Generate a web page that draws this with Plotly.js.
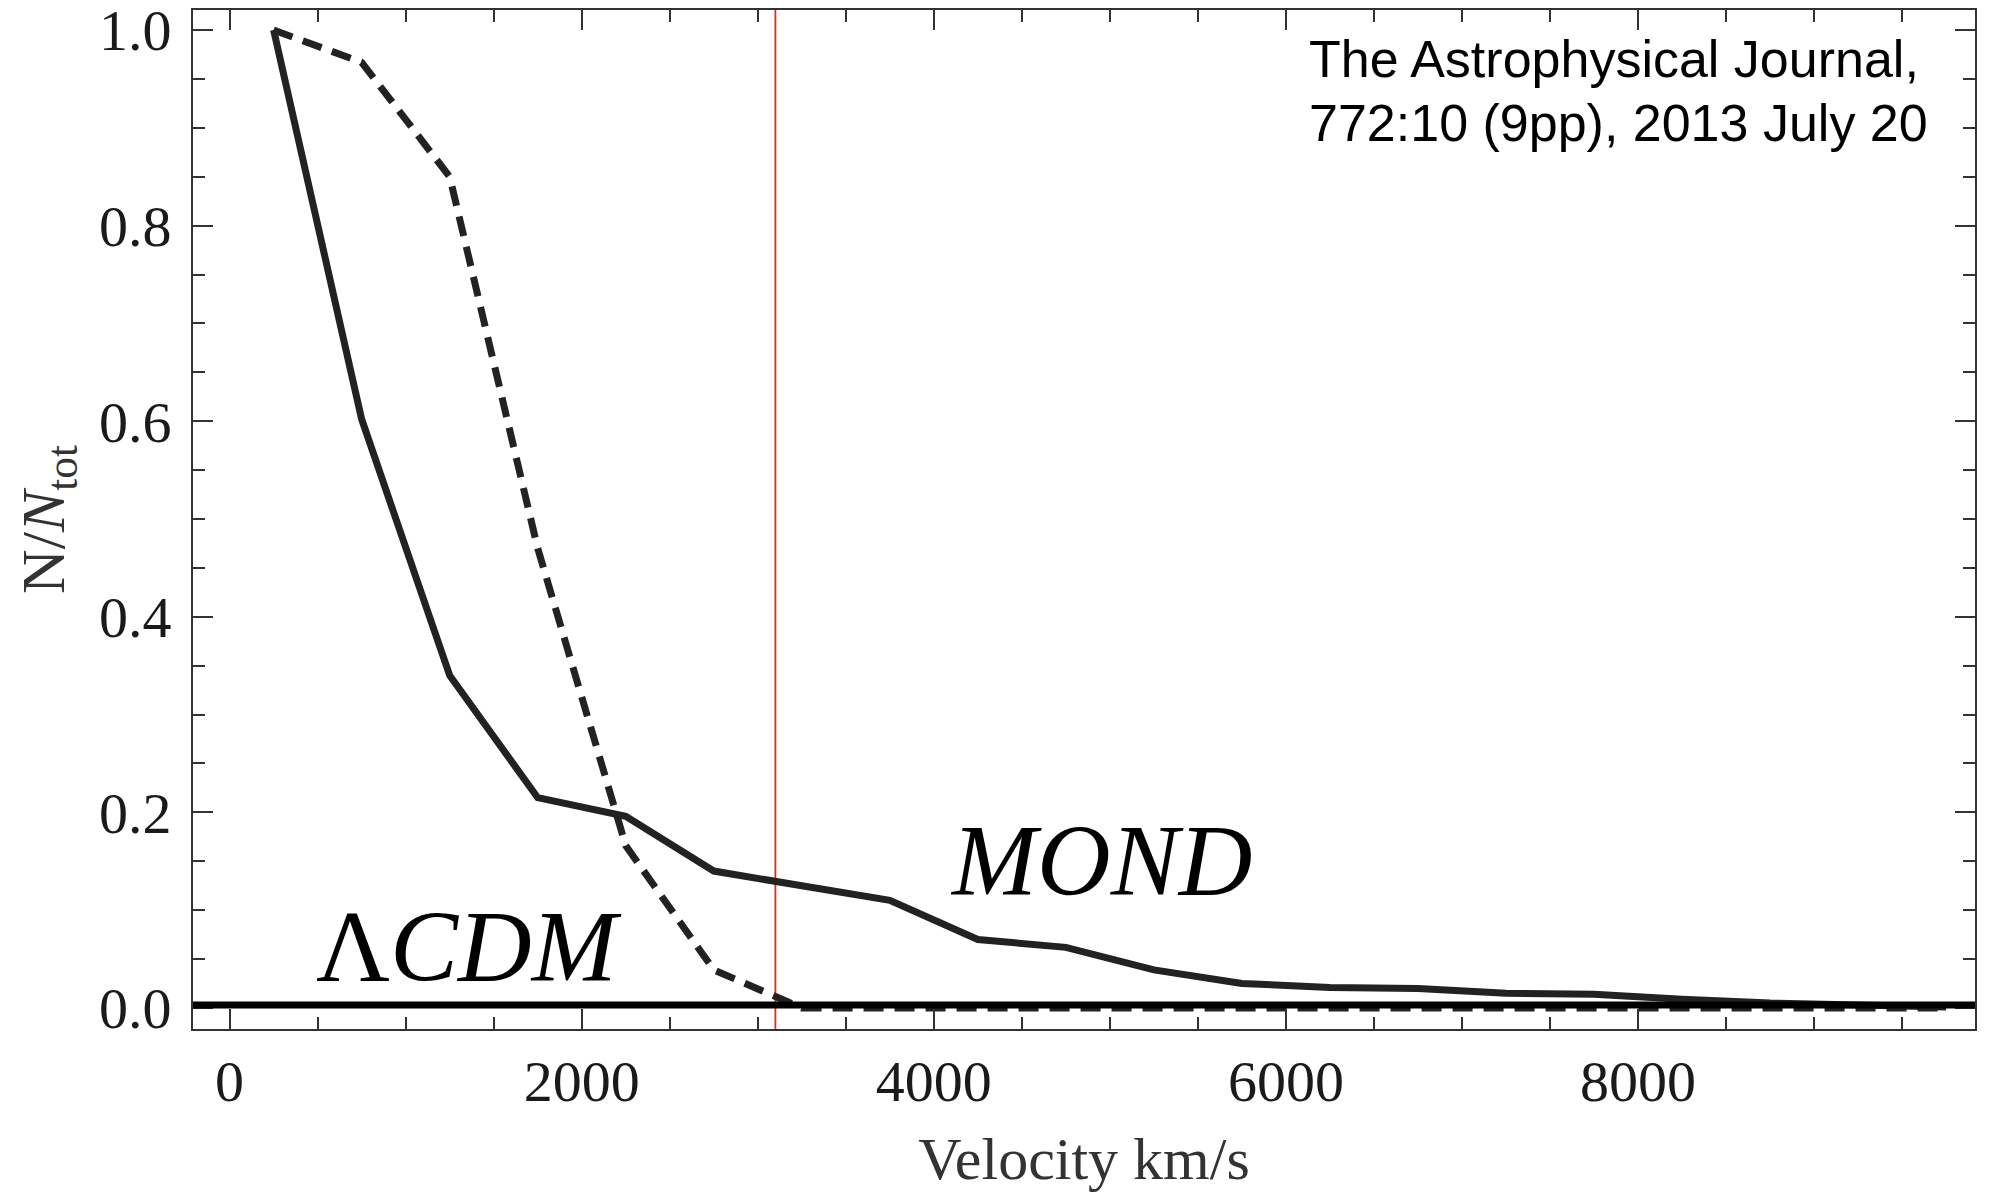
<!DOCTYPE html>
<html><head><meta charset="utf-8">
<script src="https://cdn.plot.ly/plotly-3.0.1.min.js"></script>
<style>html,body{margin:0;padding:0;background:#fff}</style>
</head><body>
<div id="chart" style="width:1989px;height:1194px"></div>
<script>
// Velocity bin centres (km/s)
const velocity = [250, 750, 1250, 1750, 2250, 2750, 3250, 3750, 4250, 4750,
                  5250, 5750, 6250, 6750, 7250, 7750, 8250, 8750, 9250, 9750];
// MOND (solid line)
const mond = [1.0, 0.602, 0.340, 0.215, 0.196, 0.140, 0.125, 0.110, 0.070, 0.062,
              0.039, 0.025, 0.021, 0.020, 0.015, 0.014, 0.009, 0.005, 0.003, 0.001];
// LambdaCDM (dashed line)
const lcdm = [1.0, 0.967, 0.850, 0.470, 0.166, 0.039, 0.0, 0.0, 0.0, 0.0,
              0.0, 0.0, 0.0, 0.0, 0.0, 0.0, 0.0, 0.0, 0.0, 0.0];
const markerVelocity = 3100;     // red vertical line
const xTickVals = [0, 2000, 4000, 6000, 8000];
const yTickVals = [0.0, 0.2, 0.4, 0.6, 0.8, 1.0];
const labelLCDM = "Λ<i>CDM</i>";
const labelMOND = "<i>MOND</i>";
const journalLine1 = "The Astrophysical Journal,";
const journalLine2 = "772:10 (9pp), 2013 July 20";

const serif = "Liberation Serif, Times New Roman, serif";
const sans = "Liberation Sans, Arial, Helvetica, sans-serif";
const axisCommon = {
  showline: true, linecolor: '#333', linewidth: 2, mirror: 'ticks',
  ticks: 'inside', ticklen: 20, tickwidth: 2, tickcolor: '#333',
  showgrid: false, zeroline: false, ticklabeloverflow: 'allow',
  tickfont: {family: serif, size: 58, color: '#1a1a1a'}
};

const traces = [
  {x: velocity, y: lcdm, type: 'scatter', mode: 'lines', name: 'ΛCDM',
   line: {color: '#222', width: 7, dash: '20px,11px'}, hoverinfo: 'x+y'},
  {x: velocity, y: mond, type: 'scatter', mode: 'lines', name: 'MOND',
   line: {color: '#222', width: 7}, hoverinfo: 'x+y'}
];

const layout = {
  width: 1989, height: 1194,
  margin: {l: 193, r: 14, t: 10, b: 165},
  paper_bgcolor: '#fff', plot_bgcolor: '#fff',
  showlegend: false,
  xaxis: Object.assign({}, axisCommon, {
    range: [-208, 9914], tickvals: xTickVals, tickformat: 'd',
    ticklabelstandoff: 0,
    minor: {ticks: 'inside', ticklen: 12, tickwidth: 2, tickcolor: '#333', dtick: 500, tick0: 0},
    title: {text: 'Velocity km/s', font: {family: serif, size: 60, color: '#333'}, standoff: 24}
  }),
  yaxis: Object.assign({}, axisCommon, {
    range: [-0.0215, 1.0205], tickvals: yTickVals, tickformat: '.1f',
    ticklabelstandoff: 8,
    minor: {ticks: 'inside', ticklen: 12, tickwidth: 2, tickcolor: '#333', dtick: 0.05, tick0: 0},
    title: {text: 'N/<i>N</i><sub>tot</sub>', font: {family: serif, size: 62, color: '#333'}, standoff: 14}
  }),
  shapes: [
    {type: 'line', xref: 'x', yref: 'paper', x0: markerVelocity, x1: markerVelocity, y0: 0, y1: 1,
     line: {color: '#ee2a0a', width: 1.8}, layer: 'below'},
    {type: 'line', xref: 'paper', yref: 'y', x0: 0, x1: 1, y0: 0.003, y1: 0.003,
     line: {color: '#000', width: 7}, layer: 'above'}
  ],
  annotations: [
    {x: 1360, y: 0.063, xref: 'x', yref: 'y', text: labelLCDM, showarrow: false,
     xanchor: 'center', yanchor: 'middle',
     font: {family: serif, size: 102, color: '#000'}},
    {x: 4947, y: 0.151, xref: 'x', yref: 'y', text: labelMOND, showarrow: false,
     xanchor: 'center', yanchor: 'middle',
     font: {family: serif, size: 102, color: '#000'}},
    {x: 0.625, y: 0.982, xref: 'paper', yref: 'paper', text: journalLine1, showarrow: false,
     xanchor: 'left', yanchor: 'top', align: 'left',
     font: {family: sans, size: 52, color: '#000'}},
    {x: 0.625, y: 0.920, xref: 'paper', yref: 'paper', text: journalLine2, showarrow: false,
     xanchor: 'left', yanchor: 'top', align: 'left',
     font: {family: sans, size: 52, color: '#000'}}
  ]
};

Plotly.newPlot('chart', traces, layout, {displayModeBar: false, staticPlot: true});
</script>
</body></html>
